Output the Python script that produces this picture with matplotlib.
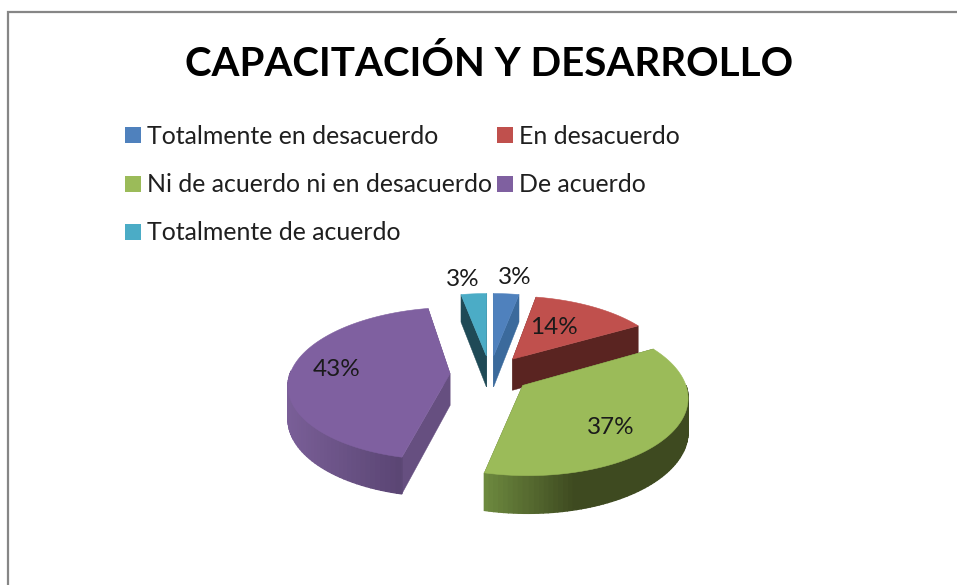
import numpy as np
import matplotlib
matplotlib.use("Agg")
import matplotlib.pyplot as plt
from matplotlib.patches import Polygon, Rectangle
from matplotlib.colors import to_rgb

title = "CAPACITACIÓN Y DESARROLLO"
categories = ["Totalmente en desacuerdo", "En desacuerdo",
              "Ni de acuerdo ni en desacuerdo", "De acuerdo",
              "Totalmente de acuerdo"]
values = [3, 13.7, 37, 43.3, 3]
labels = ["3%", "14%", "37%", "43%", "3%"]
colors = ["#4f81bd", "#c0504d", "#9bbb59", "#7f60a0", "#4bacc6"]
cut_colors = ["#3b6a9c", "#5a2421", "#4a5c2a", "#664f80", "#1f4a56"]
rim_start = ["#3b6a9c", "#5a2421", "#6f8c40", "#7a5f98", "#1f4a56"]
rim_end = ["#3b6a9c", "#5a2421", "#3e4a20", "#54406c", "#1f4a56"]

FONT = "Lato"
W, H = 957, 585
fig = plt.figure(figsize=(W / 100, H / 100), dpi=100, facecolor="white")
ax = fig.add_axes([0, 0, 1, 1])
ax.set_xlim(0, W)
ax.set_ylim(H, 0)
ax.axis("off")

# chart frame: only its top and left edges are in view
ax.plot([8, 8, W], [H, 12, 12], color="#868686", lw=1.6, solid_joinstyle="miter")

ax.text(489, 64, title, ha="center", va="center", fontsize=29,
        fontweight="bold", family=FONT, color="black")

# legend
rows = [135, 184, 232]
slots = [(125, rows[0]), (497, rows[0]), (125, rows[1]), (497, rows[1]), (125, rows[2])]
for name, col, (lx, ly) in zip(categories, colors, slots):
    ax.add_patch(Rectangle((lx, ly - 8), 16, 16, facecolor=col, edgecolor="none"))
    ax.text(lx + 22, ly + 1, name, ha="left", va="center", fontsize=17.9,
            family=FONT, color="#1f1f1f")

# perspective-projected exploded pie
CX, CY, R, K, P, DEPTH, EXPLODE = 490, 374, 160, 75, 0.132, 32, 0.25

def project(x, y):
    s = 1 / (1 + P * y)
    return CX + R * x * s, CY - K * y * s, DEPTH * s

def lerp(a, b, t):
    a, b = np.array(to_rgb(a)), np.array(to_rgb(b))
    return tuple(a + (b - a) * t)

total = sum(values)
edges = np.concatenate([[0], np.cumsum(values)]) / total * 2 * np.pi
for i in [4, 0, 1, 3, 2]:
    t1, t2 = edges[i], edges[i + 1]
    mid = (t1 + t2) / 2
    ax0, ay0 = EXPLODE * np.sin(mid), EXPLODE * np.cos(mid)
    th = np.linspace(t1, t2, 90)
    wx = np.concatenate([[ax0], ax0 + np.sin(th)])
    wy = np.concatenate([[ay0], ay0 + np.cos(th)])
    sx, sy, d = project(wx, wy)
    top = np.column_stack([sx, sy])
    n = len(top)
    faces = []
    rim_x0, rim_x1 = sx[1:].min(), sx[1:].max()
    for j in range(n):
        k = (j + 1) % n
        quad = [top[j], top[k], (sx[k], sy[k] + d[k]), (sx[j], sy[j] + d[j])]
        if j == 0 or k == 0:
            col = cut_colors[i]
            lw = 0.3
        else:
            if np.cos(th[j - 1]) > 0.02:
                continue  # far side of the rim faces away from the viewer
            f = (sx[j] - rim_x0) / max(rim_x1 - rim_x0, 1)
            f = min(f / 0.45, 1) if i == 2 else f
            col = lerp(rim_start[i], rim_end[i], f)
            lw = 1.0
        faces.append((np.mean([q[1] for q in quad]), quad, col, lw))
    for _, quad, col, lw in sorted(faces, key=lambda a: a[0]):
        ax.add_patch(Polygon(quad, closed=True, facecolor=col, edgecolor=col, lw=lw))
    ax.add_patch(Polygon(top, closed=True, facecolor=colors[i], edgecolor=colors[i], lw=0.4))

label_pos = [(515, 278), (554, 327), (611, 427), (337, 369), (463, 280)]
for lab, (lx, ly) in zip(labels, label_pos):
    ax.text(lx, ly, lab, ha="center", va="center", fontsize=17.5, family=FONT, color="#1a1a1a")

fig.savefig("out.png", dpi=100, facecolor="white")
